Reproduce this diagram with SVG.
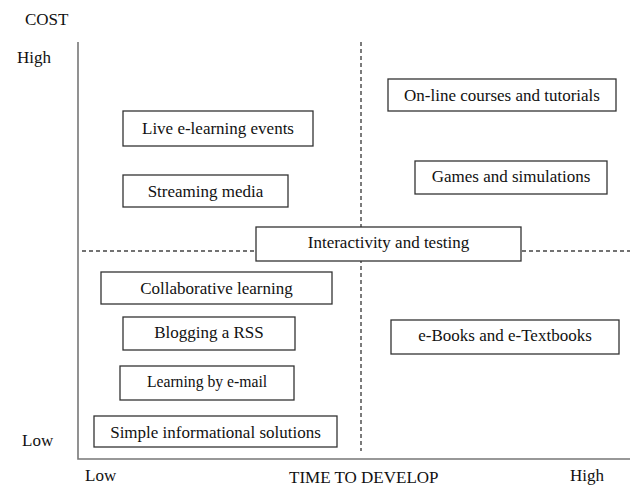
<svg xmlns="http://www.w3.org/2000/svg" width="630" height="487" viewBox="0 0 630 487">
  <style>
    text { font-family: "Liberation Serif", "Times New Roman", serif; font-size: 17px; fill: #111; }
    .box rect { fill: #fff; stroke: #333; stroke-width: 1.3; }
    .box text { text-anchor: middle; }
    .axis { stroke: #777; stroke-width: 1.6; fill: none; }
    .dash { stroke: #444; stroke-width: 1.4; stroke-dasharray: 4 3; fill: none; }
  </style>
  <rect width="630" height="487" fill="#fff"/>

  <!-- axes and quadrant dividers -->
  <g id="connectors">
    <path class="axis" d="M78,42 V459 H630"/>
    <line class="dash" x1="361" y1="42" x2="361" y2="451"/>
    <line class="dash" x1="82" y1="251" x2="256" y2="251"/>
    <line class="dash" x1="522" y1="251" x2="630" y2="251"/>
  </g>

  <!-- axis labels -->
  <g id="labels">
    <text x="25" y="25">COST</text>
    <text x="17" y="63">High</text>
    <text x="22" y="446">Low</text>
    <text x="85" y="481">Low</text>
    <text x="289" y="483">TIME TO DEVELOP</text>
    <text x="570" y="481">High</text>
  </g>

  <g id="live-elearning" class="box">
    <rect x="123" y="111" width="190" height="35"/>
    <text x="218" y="134">Live e-learning events</text>
  </g>
  <g id="streaming-media" class="box">
    <rect x="123" y="175" width="165" height="32"/>
    <text x="205.5" y="197">Streaming media</text>
  </g>
  <g id="online-courses" class="box">
    <rect x="388" y="79" width="228" height="32"/>
    <text x="502" y="101">On-line courses and tutorials</text>
  </g>
  <g id="games-simulations" class="box">
    <rect x="415" y="161" width="192" height="33"/>
    <text x="511" y="182">Games and simulations</text>
  </g>
  <g id="interactivity-testing" class="box">
    <rect x="256" y="227" width="265" height="34"/>
    <text x="388.5" y="248">Interactivity and testing</text>
  </g>
  <g id="collaborative-learning" class="box">
    <rect x="101" y="272" width="231" height="32"/>
    <text x="216.5" y="294">Collaborative learning</text>
  </g>
  <g id="blogging-rss" class="box">
    <rect x="123" y="317" width="172" height="33"/>
    <text x="209" y="338">Blogging a RSS</text>
  </g>
  <g id="learning-email" class="box">
    <rect x="120" y="366" width="174" height="34"/>
    <text x="207" y="387" style="font-size:15.7px">Learning by e-mail</text>
  </g>
  <g id="simple-informational" class="box">
    <rect x="94" y="416" width="243" height="31"/>
    <text x="215.5" y="438">Simple informational solutions</text>
  </g>
  <g id="ebooks" class="box">
    <rect x="391" y="320" width="228" height="34"/>
    <text x="505" y="341">e-Books and e-Textbooks</text>
  </g>
</svg>
